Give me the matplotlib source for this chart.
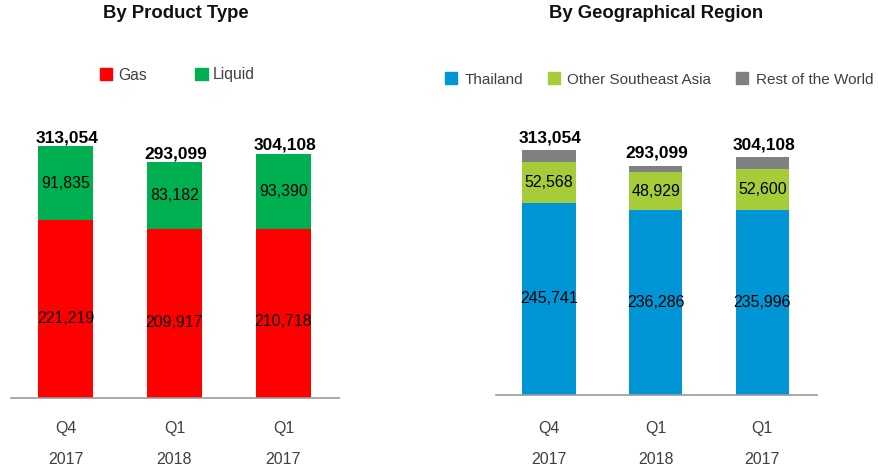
import matplotlib
matplotlib.use("Agg")
import matplotlib.pyplot as plt
from matplotlib.patches import Patch
import numpy as np

plt.rcParams['font.family'] = ['Liberation Sans', 'DejaVu Sans']

# data
periods = ["Q4\n2017", "Q1\n2018", "Q1\n2017"]
gas = [221219, 209917, 210718]
liquid = [91835, 83182, 93390]
product_total = [313054, 293099, 304108]

thailand = [245741, 236286, 235996]
other_sea = [52568, 48929, 52600]
rest_world = [14745, 7884, 15512]
region_total = [313054, 293099, 304108]

RED = "#FF0000"
GREEN = "#00B050"
BLUE = "#0096D6"
LIME = "#A5CD39"
GREY = "#808080"
TXT = "#404040"

W, H = 879, 468
fig = plt.figure(figsize=(W / 100, H / 100), dpi=100)


def px_axes(left, right, base, height):
    return fig.add_axes([left / W, (H - base) / H, (right - left) / W, height / H])


def style_axis(ax, ymax, pad):
    ax.set_xlim(-0.5, 2.51)
    ax.set_ylim(0, ymax)
    for s in ["top", "right", "left"]:
        ax.spines[s].set_visible(False)
    ax.spines["bottom"].set_color("#999999")
    ax.spines["bottom"].set_linewidth(1.2)
    ax.set_yticks([])
    ax.set_xticks(range(len(periods)))
    ax.set_xticklabels(periods, fontsize=11.5, color=TXT, linespacing=2.35)
    ax.tick_params(axis="x", length=0, pad=pad)


def seg_label(ax, x, bottom, h, val, frac=0.5):
    ax.text(x, bottom + h * frac, f"{val:,}", ha="center", va="center",
            fontsize=11.5, color="black")


x = np.arange(len(periods))

# left: by product type
ax1 = px_axes(11, 339, 398.3, 360000 / 1242.3)
style_axis(ax1, 360000, 16)
ax1.bar(x, gas, width=0.51, color=RED)
ax1.bar(x, liquid, width=0.51, bottom=gas, color=GREEN)
for i in range(len(x)):
    seg_label(ax1, x[i], 0, gas[i], gas[i], 0.45)
    seg_label(ax1, x[i], gas[i], liquid[i], liquid[i])
    ax1.annotate(f"{product_total[i]:,}", (x[i], product_total[i]),
                 xytext=(1, 6), textcoords="offset points", ha="center",
                 va="center", fontsize=12.5, fontweight="bold")

# right: by geographical region
ax2 = px_axes(495.7, 816.7, 395, 360000 / 1279)
style_axis(ax2, 360000, 18.5)
b2 = np.array(thailand) + np.array(other_sea)
ax2.bar(x, thailand, width=0.5, color=BLUE)
ax2.bar(x, other_sea, width=0.5, bottom=thailand, color=LIME)
ax2.bar(x, rest_world, width=0.5, bottom=b2, color=GREY)
for i in range(len(x)):
    seg_label(ax2, x[i], 0, thailand[i], thailand[i])
    seg_label(ax2, x[i], thailand[i], other_sea[i], other_sea[i])
    ax2.annotate(f"{region_total[i]:,}", (x[i], region_total[i]),
                 xytext=(1, 9), textcoords="offset points", ha="center",
                 va="center", fontsize=12.5, fontweight="bold")

# titles
fig.text(175.5 / W, 1 - 14 / H, "By Product Type", ha="center", va="center",
         fontsize=13.3, fontweight="bold", color="#111111")
fig.text(656 / W, 1 - 14 / H, "By Geographical Region", ha="center", va="center",
         fontsize=13.3, fontweight="bold", color="#111111")

# legends
h1 = [Patch(color=RED, label="Gas"), Patch(color=GREEN, label="Liquid")]
leg1 = fig.legend(handles=h1, loc="center", bbox_to_anchor=(177.5 / W, 1 - 75 / H),
                  ncol=2, frameon=False, fontsize=11.3, handlelength=0.8,
                  handleheight=0.8, handletextpad=0.35, columnspacing=3.1)
for t in leg1.get_texts():
    t.set_color(TXT)

h2 = [Patch(color=BLUE, label="Thailand"), Patch(color=LIME, label="Other Southeast Asia"),
      Patch(color=GREY, label="Rest of the World")]
leg2 = fig.legend(handles=h2, loc="center", bbox_to_anchor=(659 / W, 1 - 79.5 / H),
                  ncol=3, frameon=False, fontsize=11, handlelength=0.8,
                  handleheight=0.8, handletextpad=0.5, columnspacing=1.6)
for t in leg2.get_texts():
    t.set_color(TXT)

fig.savefig("out.png", dpi=100)
